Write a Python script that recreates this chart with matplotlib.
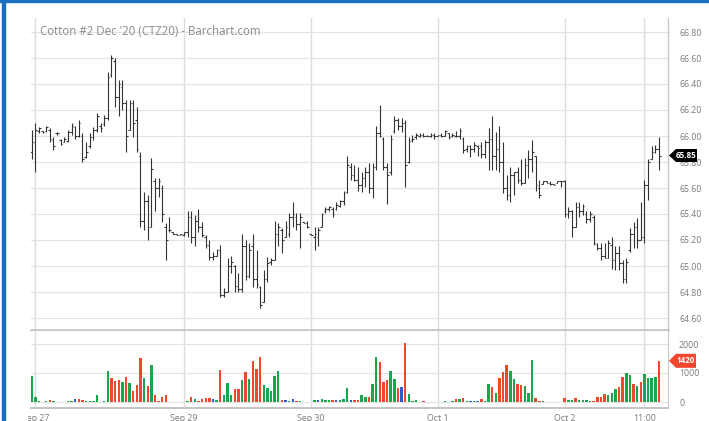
import matplotlib
matplotlib.use("Agg")
import matplotlib.pyplot as plt
import numpy as np
from matplotlib.patches import Polygon, Rectangle
from matplotlib.transforms import Bbox, IdentityTransform

plt.rcParams['font.family'] = ['Open Sans', 'DejaVu Sans']

W, H = 709, 421

title = "Cotton #2 Dec '20 (CTZ20) - Barchart.com"

opens = [65.88, 65.95, 66.04, 66.04, 66.04, 66.05, 65.97, 66.02, 65.97, 65.95,
         65.96, 66.03, 66.07, 66.00, 66.00, 65.84, 65.92, 65.99, 66.05, 66.08,
         66.09, 66.14, 66.47, 66.58, 66.30, 66.38, 66.25, 66.05, 66.25, 66.12,
         65.85, 65.35, 65.50, 65.30, 65.65, 65.60, 65.60, 65.30, 65.28, 65.26,
         65.25, 65.24, 65.24, 65.26, 65.38, 65.22, 65.35, 65.30, 65.22, 65.16,
         65.07, 65.08, 65.12, 64.78, 64.80, 65.00, 65.00, 64.85, 64.82, 65.15,
         64.92, 65.15, 64.90, 64.84, 64.72, 64.90, 65.03, 65.05, 65.25, 65.28,
         65.22, 65.25, 65.38, 65.38, 65.32, 65.34, 65.33, 65.25, 65.22, 65.22,
         65.30, 65.42, 65.44, 65.44, 65.44, 65.46, 65.50, 65.57, 65.76, 65.70,
         65.66, 65.62, 65.68, 65.72, 65.60, 65.76, 66.02, 65.98, 65.76, 65.72,
         66.04, 66.12, 66.08, 66.10, 65.80, 65.97, 65.99, 66.00, 66.01, 66.00,
         66.00, 66.01, 66.00, 66.01, 66.00, 66.02, 66.00, 66.00, 66.00, 65.98,
         65.90, 65.92, 65.90, 65.92, 65.92, 65.86, 65.95, 65.98, 65.85, 65.90,
         65.80, 65.60, 65.55, 65.70, 65.72, 65.66, 65.64, 65.78, 65.82, 65.85,
         65.60, 65.63, 65.65, 65.64, 65.63, 65.64, 65.65, 65.65, 65.40, 65.42,
         65.30, 65.45, 65.42, 65.40, 65.36, 65.38, 65.17, 65.14, 65.08, 65.06,
         65.16, 65.05, 65.10, 65.02, 64.90, 65.12, 65.25, 65.30, 65.20, 65.22,
         65.62, 65.82, 65.88, 65.90]

highs = [66.05, 66.10, 66.07, 66.04, 66.08, 66.06, 65.99, 66.03, 65.98, 65.99,
         66.05, 66.10, 66.08, 66.12, 66.02, 65.95, 66.02, 66.07, 66.18, 66.10,
         66.16, 66.49, 66.62, 66.60, 66.43, 66.43, 66.28, 66.28, 66.28, 66.22,
         65.88, 65.57, 65.55, 65.83, 65.68, 65.68, 65.62, 65.33, 65.38, 65.26,
         65.25, 65.25, 65.26, 65.42, 65.42, 65.39, 65.44, 65.34, 65.24, 65.20,
         65.11, 65.13, 65.16, 64.83, 65.06, 65.08, 65.01, 64.95, 65.25, 65.20,
         65.18, 65.25, 65.12, 64.85, 64.97, 65.07, 65.06, 65.35, 65.33, 65.29,
         65.35, 65.41, 65.49, 65.41, 65.41, 65.34, 65.35, 65.25, 65.30, 65.30,
         65.41, 65.45, 65.46, 65.45, 65.49, 65.51, 65.58, 65.85, 65.79, 65.78,
         65.76, 65.72, 65.76, 65.79, 65.79, 66.08, 66.24, 65.99, 65.79, 66.01,
         66.15, 66.14, 66.14, 66.12, 65.99, 66.01, 66.02, 66.02, 66.02, 66.01,
         66.02, 66.02, 66.01, 66.02, 66.05, 66.02, 66.02, 66.04, 66.06, 65.99,
         65.93, 65.93, 65.95, 65.93, 65.95, 65.97, 66.06, 66.15, 66.03, 66.08,
         65.95, 65.70, 65.76, 65.72, 65.76, 65.82, 65.83, 65.89, 65.97, 65.85,
         65.66, 65.65, 65.65, 65.65, 65.63, 65.65, 65.65, 65.66, 65.45, 65.43,
         65.49, 65.49, 65.48, 65.42, 65.42, 65.39, 65.18, 65.18, 65.18, 65.20,
         65.22, 65.15, 65.15, 65.05, 65.06, 65.29, 65.34, 65.37, 65.49, 65.66,
         65.82, 65.92, 65.93, 65.99]

lows = [65.82, 65.72, 66.02, 66.02, 66.03, 65.95, 65.89, 66.01, 65.93, 65.95,
        65.95, 66.01, 65.98, 65.99, 65.80, 65.83, 65.91, 65.97, 66.03, 66.03,
        66.08, 66.12, 66.45, 66.22, 66.15, 66.20, 65.88, 66.05, 65.99, 65.88,
        65.30, 65.28, 65.20, 65.30, 65.42, 65.53, 65.34, 65.05, 65.26, 65.25,
        65.24, 65.24, 65.23, 65.22, 65.18, 65.15, 65.26, 65.22, 65.14, 65.05,
        65.05, 65.08, 64.76, 64.76, 64.80, 64.95, 64.80, 64.80, 64.80, 64.89,
        64.91, 64.84, 64.83, 64.68, 64.72, 64.88, 65.01, 65.05, 65.15, 65.10,
        65.22, 65.22, 65.30, 65.28, 65.14, 65.33, 65.29, 65.24, 65.12, 65.15,
        65.30, 65.41, 65.42, 65.38, 65.43, 65.45, 65.47, 65.56, 65.66, 65.65,
        65.58, 65.57, 65.61, 65.56, 65.52, 65.74, 65.99, 65.74, 65.48, 65.70,
        66.02, 66.05, 66.03, 65.61, 65.79, 65.95, 65.98, 65.99, 65.99, 66.00,
        65.99, 65.98, 66.00, 65.99, 66.00, 65.98, 65.99, 65.99, 65.98, 65.87,
        65.88, 65.84, 65.88, 65.85, 65.83, 65.83, 65.74, 65.74, 65.74, 65.72,
        65.56, 65.51, 65.49, 65.55, 65.64, 65.62, 65.64, 65.68, 65.72, 65.58,
        65.52, 65.63, 65.64, 65.62, 65.62, 65.64, 65.61, 65.38, 65.37, 65.22,
        65.30, 65.38, 65.39, 65.33, 65.34, 65.16, 65.12, 65.05, 65.06, 65.06,
        64.98, 64.97, 64.97, 64.87, 64.87, 65.11, 65.14, 65.14, 65.20, 65.18,
        65.51, 65.82, 65.87, 65.74]

closes = [65.95, 66.05, 66.06, 66.03, 66.07, 65.98, 65.92, 66.02, 65.94, 65.98,
          66.03, 66.08, 66.00, 66.10, 65.82, 65.88, 65.99, 66.05, 66.15, 66.06,
          66.14, 66.45, 66.60, 66.30, 66.40, 66.25, 66.00, 66.25, 66.10, 65.90,
          65.35, 65.50, 65.30, 65.75, 65.60, 65.65, 65.40, 65.20, 65.28, 65.25,
          65.24, 65.25, 65.26, 65.38, 65.22, 65.35, 65.30, 65.24, 65.16, 65.07,
          65.08, 65.12, 64.78, 64.80, 65.00, 65.03, 64.85, 64.82, 65.15, 64.92,
          65.12, 64.90, 64.86, 64.70, 64.90, 65.02, 65.05, 65.25, 65.30, 65.20,
          65.30, 65.38, 65.40, 65.32, 65.38, 65.33, 65.30, 65.24, 65.25, 65.28,
          65.40, 65.44, 65.45, 65.40, 65.47, 65.50, 65.56, 65.78, 65.70, 65.66,
          65.62, 65.68, 65.72, 65.60, 65.76, 66.02, 66.00, 65.76, 65.70, 65.98,
          66.12, 66.08, 66.10, 65.78, 65.96, 65.98, 66.01, 66.01, 66.00, 66.00,
          66.01, 66.00, 66.01, 66.00, 66.04, 65.99, 66.01, 66.00, 66.04, 65.89,
          65.92, 65.90, 65.93, 65.91, 65.86, 65.95, 65.98, 65.85, 65.90, 65.80,
          65.60, 65.55, 65.70, 65.72, 65.66, 65.64, 65.78, 65.82, 65.88, 65.62,
          65.55, 65.65, 65.64, 65.63, 65.62, 65.65, 65.65, 65.40, 65.42, 65.30,
          65.45, 65.42, 65.46, 65.36, 65.40, 65.18, 65.14, 65.08, 65.06, 65.18,
          65.05, 65.10, 65.02, 64.90, 65.03, 65.25, 65.30, 65.20, 65.22, 65.62,
          65.80, 65.88, 65.90, 65.85]

volumes = [886, 182, 30, 10, 40, 80, 40, 10, 15, 10,
           50, 50, 100, 90, 60, 30, 30, 50, 250, 10,
           50, 1080, 830, 739, 761, 705, 852, 659, 386, 580,
           1511, 830, 545, 1261, 227, 40, 159, 250, 10, 10,
           10, 10, 10, 30, 170, 90, 50, 90, 150, 150,
           90, 70, 1091, 227, 648, 250, 440, 440, 773, 1034,
           795, 1409, 1125, 1568, 580, 500, 364, 909, 1068, 80,
           80, 50, 100, 20, 50, 15, 10, 5, 80, 60,
           90, 60, 60, 60, 80, 60, 90, 500, 60, 60,
           60, 250, 180, 180, 636, 1568, 1386, 682, 761, 1057,
           795, 466, 523, 2045, 273, 20, 60, 15, 50, 10,
           15, 10, 10, 10, 20, 10, 30, 90, 100, 150,
           30, 30, 30, 50, 90, 50, 636, 534, 318, 841,
           1034, 1284, 1080, 795, 636, 602, 545, 295, 1432, 136,
           30, 20, 10, 5, 5, 5, 5, 136, 80, 80,
           150, 80, 80, 80, 50, 50, 160, 170, 273, 227,
           318, 455, 523, 875, 1000, 920, 636, 568, 705, 966,
           830, 818, 864, 1420]

# g = up, r = down, b = unchanged
volume_dirs = ("gggrgrgrrr" "ggbrrggggr" "ggrrrgrgrr" "rgrgrrrrrr" "rrbgrgrrrr"
               "bgrgggrrgr" "grrrgggggr" "bgbrgrrrgb" "gggrbgggbr" "rggrggrrrg"
               "grbrggggrr" "ggrggrgrgr" "gbgbrggrgr" "rrggrrgggr" "rgggrggrgg"
               "rggggrrrrg" "ggrrggrgrg" "gggr")

x_tick_pos = [1, 42, 77, 112, 147, 169]
x_tick_labels = ['Sep 27', 'Sep 29', 'Sep 30', 'Oct 1', 'Oct 2', '11:00']
price_ticks = [64.60, 64.80, 65.00, 65.20, 65.40, 65.60, 65.80, 66.00,
               66.20, 66.40, 66.60, 66.80]
volume_ticks = [0, 1000, 2000]
last_price = 65.85
last_volume = 1420

N = len(closes)
x = np.arange(N)

fig = plt.figure(figsize=(W / 100, H / 100), dpi=100)
fig.patch.set_facecolor('white')


def fx(px):
    return px / W


def fy(py):
    return 1 - py / H


L, R = 31, 668
axp = fig.add_axes([fx(L), fy(330), fx(R) - fx(L), fy(18) - fy(330)])
axv = fig.add_axes([fx(L), fy(408), fx(R) - fx(L), fy(331) - fy(408)], sharex=axp)

grid_c = '#e4e4e4'
vgrid_c = '#dcdcdc'
spine_c = '#c9c9c9'
lab_c = '#7a7a7a'
bar_c = '#333333'

# price OHLC
axp.vlines(x, lows, highs, color=bar_c, lw=0.8, zorder=3)
axp.hlines(opens, x - 0.45, x, color=bar_c, lw=0.8, zorder=3)
axp.hlines(closes, x, x + 0.45, color=bar_c, lw=0.8, zorder=3)

axp.set_xlim(-0.2, 175.5)
axp.set_ylim(66.80 - 298 / 130, 66.80 + 14 / 130)
axp.set_yticks(price_ticks)
axp.set_yticklabels([f'{v:.2f}' for v in price_ticks])
axp.yaxis.tick_right()
axp.tick_params(axis='y', length=0, pad=8, labelsize=6.3, labelcolor=lab_c)
axp.tick_params(axis='x', length=0, labelbottom=False)
axp.grid(axis='y', color=grid_c, lw=0.9, zorder=0)
for p in x_tick_pos:
    axp.axvline(p, color=vgrid_c, lw=1.0, zorder=1)
for s in ['top', 'left']:
    axp.spines[s].set_visible(False)
axp.spines['right'].set_color(spine_c)
axp.spines['right'].set_linewidth(1.0)
axp.spines['bottom'].set_color('#c4c4c4')
axp.spines['bottom'].set_linewidth(1.8)

# volume
cmap = {'g': '#17a84b', 'r': '#f3462f', 'b': '#2c5bd4'}
vcolors = [cmap[c] for c in volume_dirs]
axv.bar(x, volumes, width=0.68, color=vcolors, zorder=3, linewidth=0)
axv.set_ylim(-(6 / 29) * 1000, (71 / 29) * 1000)
axv.set_yticks(volume_ticks)
axv.set_yticklabels([str(v) for v in volume_ticks])
axv.yaxis.tick_right()
axv.tick_params(axis='y', length=0, pad=8, labelsize=6.3, labelcolor=lab_c)
axv.grid(axis='y', color=grid_c, lw=0.9, zorder=0)
for p in x_tick_pos:
    axv.axvline(p, color=vgrid_c, lw=1.0, zorder=1)
axv.set_xticks(x_tick_pos)
axv.set_xticklabels(x_tick_labels)
axv.tick_params(axis='x', length=0, pad=4, labelsize=6.4, labelcolor=lab_c)
for s in ['top', 'left']:
    axv.spines[s].set_visible(False)
axv.spines['right'].set_color(spine_c)
axv.spines['bottom'].set_color('#c4c4c4')
axv.spines['bottom'].set_linewidth(1.4)

# clip first x label like the reference
first = axv.get_xticklabels()[0]
first.set_clip_on(True)
first.set_clip_box(Bbox([[28, 0], [W, H]]))

# title
fig.text(fx(40), fy(35.3), title, fontsize=8.3, color='#8a8a8a', va='baseline', ha='left')

# price tag
yp = axp.transData.transform((0, last_price))[1]
tag = Polygon([(669, yp), (676, yp + 6.5), (697, yp + 6.5), (697, yp - 6.5), (676, yp - 6.5)],
              closed=True, transform=IdentityTransform(), fc='#000000', ec='none', zorder=10)
fig.add_artist(tag)
fig.text(686.5 / W, yp / H, f'{last_price:.2f}', color='white', fontsize=5.8, fontweight='bold',
         ha='center', va='center', zorder=11)

# volume tag
yv = axv.transData.transform((0, last_volume))[1]
tagv = Polygon([(669, yv), (676, yv + 7), (696, yv + 7), (696, yv - 7), (676, yv - 7)],
               closed=True, transform=IdentityTransform(), fc='#f3462f', ec='none', zorder=10)
fig.add_artist(tagv)
fig.text(686 / W, yv / H, str(last_volume), color='white', fontsize=5.8, fontweight='bold',
         ha='center', va='center', zorder=11)

# blue frame
fig.add_artist(Rectangle((fx(1.5), 0), 3 / W, 1, transform=fig.transFigure,
                         color='#1c6fbf', zorder=20))
fig.add_artist(Rectangle((0, 1 - 2 / H), 1, 2 / H, transform=fig.transFigure,
                         color='#1c6fbf', zorder=20))

fig.savefig('out.png', dpi=100)
